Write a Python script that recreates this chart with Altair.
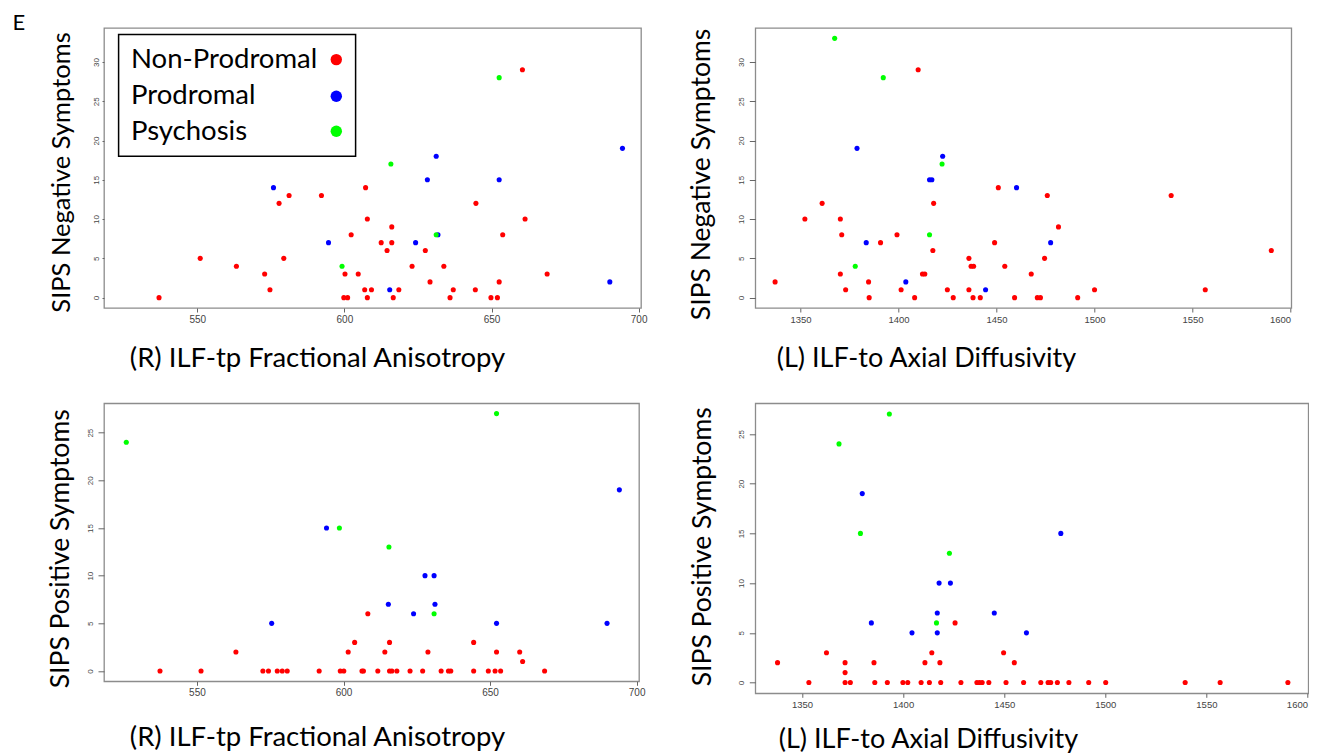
import altair as alt
import pandas as pd

groups = ["Non-Prodromal", "Prodromal", "Psychosis"]
colors = ["#FF0000", "#0000FF", "#00FF00"]

# (R) ILF-tp Fractional Anisotropy vs SIPS Negative Symptoms
fa_neg_np_x = [537, 551, 563.3, 572.9, 574.7, 577.8, 581.2, 579.4, 592.2, 600.2,
               599.8, 601.1, 602.3, 604.7, 607.2, 607.8, 606.9, 609.2, 607.8, 612.5,
               660.5, 644.7, 661.4, 616.1, 653.8, 616.1, 614.5, 627.5, 623.0, 633.8,
               668.9, 629.1, 652.6, 618.5, 637.0, 644.5, 616.6, 635.9, 649.8, 652.0]
fa_neg_np_y = [0, 5, 4, 3, 1, 12, 13, 5, 13, 3,
               0, 0, 8, 3, 14, 10, 1, 1, 0, 7,
               29, 12, 10, 9, 8, 7, 6, 6, 4, 4,
               3, 2, 2, 1, 1, 1, 0, 0, 0, 0]
fa_neg_pr_x = [575.9, 594.6, 694.5, 631.2, 628.2, 652.6, 631.8, 624.2, 690.2, 615.4]
fa_neg_pr_y = [14, 7, 19, 18, 15, 15, 8, 7, 2, 1]
fa_neg_ps_x = [525.5, 599.2, 652.6, 615.8, 631.2]
fa_neg_ps_y = [33, 4, 28, 17, 8]

# (L) ILF-to Axial Diffusivity vs SIPS Negative Symptoms
ad_neg_np_x = [1410.0, 1450.9, 1361.0, 1417.9, 1352.2, 1370.3, 1371.0, 1399.2, 1390.8, 1449.0,
               1417.5, 1435.9, 1437.0, 1438.3, 1454.2, 1370.3, 1412.2, 1413.4, 1337.0, 1384.7,
               1373.0, 1401.3, 1424.9, 1435.9, 1385.0, 1408.2, 1427.9, 1438.0, 1441.7, 1475.9,
               1539.1, 1481.6, 1590.2, 1474.5, 1467.7, 1500.0, 1556.5, 1459.2, 1470.8, 1472.4,
               1491.4]
ad_neg_np_y = [29, 14, 12, 12, 10, 10, 8, 8, 7, 7,
               6, 5, 4, 4, 4, 3, 3, 3, 2, 2,
               1, 1, 1, 1, 0, 0, 0, 0, 0, 13,
               13, 9, 6, 5, 3, 1, 1, 0, 0, 0,
               0]
ad_neg_pr_x = [1378.8, 1422.5, 1415.8, 1417.0, 1383.5, 1403.7, 1444.4, 1460.2, 1477.6]
ad_neg_pr_y = [19, 18, 15, 15, 7, 2, 1, 14, 7]
ad_neg_ps_x = [1367.4, 1392.2, 1422.2, 1415.8, 1377.9]
ad_neg_ps_y = [33, 28, 17, 8, 4]

# (R) ILF-tp Fractional Anisotropy vs SIPS Positive Symptoms
fa_pos_np_x = [537.4, 551.4, 572.5, 574.4, 577.4, 579.1, 580.8, 591.7, 598.9, 600.1,
               606.3, 606.8, 611.7, 615.7, 616.5, 618.2, 622.7, 627.0, 633.3, 635.8,
               636.6, 644.4, 649.4, 651.7, 653.6, 668.6, 563.3, 601.6, 614.1, 628.8,
               652.2, 660.1, 603.8, 615.7, 644.4, 608.3, 661.1]
fa_pos_np_y = [0, 0, 0, 0, 0, 0, 0, 0, 0, 0,
               0, 0, 0, 0, 0, 0, 0, 0, 0, 0,
               0, 0, 0, 0, 0, 0, 2, 2, 2, 2,
               2, 2, 3, 3, 3, 6, 1]
fa_pos_pr_x = [575.5, 594.2, 694.1, 627.8, 630.9, 615.3, 631.2, 623.9, 652.2, 689.9]
fa_pos_pr_y = [5, 15, 19, 10, 10, 7, 7, 6, 5, 5]
fa_pos_ps_x = [525.9, 598.6, 652.2, 615.5, 630.9]
fa_pos_ps_y = [24, 15, 27, 13, 6]

# (L) ILF-to Axial Diffusivity vs SIPS Positive Symptoms
ad_pos_np_x = [1353.4, 1371.3, 1373.9, 1386.0, 1392.2, 1399.9, 1402.3, 1408.9, 1413.0, 1418.6,
               1428.6, 1436.5, 1437.8, 1439.1, 1442.4, 1450.9, 1459.6, 1468.1, 1471.7, 1473.0,
               1476.3, 1482.0, 1491.8, 1500.2, 1539.5, 1556.8, 1590.3, 1371.3, 1337.9, 1371.3,
               1385.6, 1410.8, 1418.2, 1455.0, 1362.1, 1414.2, 1449.7, 1425.7]
ad_pos_np_y = [0, 0, 0, 0, 0, 0, 0, 0, 0, 0,
               0, 0, 0, 0, 0, 0, 0, 0, 0, 0,
               0, 0, 0, 0, 0, 0, 0, 1, 2, 2,
               2, 2, 2, 2, 3, 3, 3, 6]
ad_pos_pr_x = [1379.8, 1384.3, 1404.4, 1416.9, 1416.9, 1417.8, 1423.4, 1445.1, 1478.0, 1461.0]
ad_pos_pr_y = [19, 6, 5, 7, 5, 10, 10, 7, 15, 5]
ad_pos_ps_x = [1368.3, 1378.9, 1393.2, 1416.5, 1422.9]
ad_pos_ps_y = [24, 15, 27, 6, 13]

fa_ticks = [550, 600, 650, 700]
ad_ticks = [1350, 1400, 1450, 1500, 1550, 1600]
neg_ticks = [0, 5, 10, 15, 20, 25, 30]
pos_ticks = [0, 5, 10, 15, 20, 25]

fa_domain = [518.3, 700.8]
ad_domain = [1326.9, 1600.4]
neg_domain = [-1.32, 34.32]
pos_domain = [-1.08, 28.08]

title_fa = "(R) ILF-tp Fractional Anisotropy"
title_ad = "(L) ILF-to Axial Diffusivity"
title_neg = "SIPS Negative Symptoms"
title_pos = "SIPS Positive Symptoms"


def make_df(series):
    rows = []
    for g, (xs, ys) in zip(groups, series):
        for xv, yv in zip(xs, ys):
            rows.append({"x": xv, "y": yv, "group": g})
    return pd.DataFrame(rows)


def points(df, xdom, ydom, xt, yt, xtitle, ytitle, xs):
    return alt.Chart(df).mark_circle(size=26, opacity=1).encode(
        x=alt.X("x:Q",
                scale=alt.Scale(domain=xdom, nice=False, zero=False),
                axis=alt.Axis(values=xt, format="d", title=xtitle,
                              titleX=xs["txx"], titleY=xs["txy"],
                              titleAlign="left", titleBaseline="middle",
                              titleFontSize=xs["xtfs"],
                              labelFontSize=xs["xlfs"], tickSize=4, labelPadding=2)),
        y=alt.Y("y:Q",
                scale=alt.Scale(domain=ydom, nice=False, zero=False),
                axis=alt.Axis(values=yt, format="d", title=ytitle,
                              titleX=xs["tyx"], titleY=xs["tyy"], titleAngle=270,
                              titleAlign="center", titleBaseline="middle",
                              titleFontSize=xs["ytfs"],
                              labelAngle=270, labelFontSize=8,
                              tickSize=xs["yts"], labelPadding=xs["ylp"])),
        color=alt.Color("group:N", scale=alt.Scale(domain=groups, range=colors), legend=None),
    )


one = pd.DataFrame({"k": [0]})

df_tl = make_df([(fa_neg_np_x, fa_neg_np_y), (fa_neg_pr_x, fa_neg_pr_y), (fa_neg_ps_x, fa_neg_ps_y)])
df_tr = make_df([(ad_neg_np_x, ad_neg_np_y), (ad_neg_pr_x, ad_neg_pr_y), (ad_neg_ps_x, ad_neg_ps_y)])
df_bl = make_df([(fa_pos_np_x, fa_pos_np_y), (fa_pos_pr_x, fa_pos_pr_y), (fa_pos_ps_x, fa_pos_ps_y)])
df_br = make_df([(ad_pos_np_x, ad_pos_np_y), (ad_pos_pr_x, ad_pos_pr_y), (ad_pos_ps_x, ad_pos_ps_y)])

pts_tl = points(df_tl, fa_domain, neg_domain, fa_ticks, neg_ticks, title_fa, title_neg,
                dict(txx=25.3, txy=50.3, tyx=-42.7, tyy=144, xtfs=27.5, ytfs=25.5,
                     xlfs=10, yts=2, ylp=2))
pts_tr = points(df_tr, ad_domain, neg_domain, ad_ticks, neg_ticks, title_ad, title_neg,
                dict(txx=21, txy=50.3, tyx=-54, tyy=146, xtfs=27, ytfs=26.5,
                     xlfs=9.5, yts=6, ylp=4))
pts_bl = points(df_bl, fa_domain, pos_domain, fa_ticks, pos_ticks, title_fa, title_pos,
                dict(txx=25.3, txy=56.5, tyx=-44, tyy=145, xtfs=27.5, ytfs=26.5,
                     xlfs=10, yts=6, ylp=4))
pts_br = points(df_br, ad_domain, pos_domain, ad_ticks, pos_ticks, title_ad, title_pos,
                dict(txx=23, txy=46, tyx=-53, tyy=143, xtfs=27, ytfs=26.5,
                     xlfs=9.5, yts=6, ylp=4))

# legend drawn inside the first panel (labels left, dots right)
legend_box = alt.Chart(one).mark_rect(fill="white", stroke="black", strokeWidth=1.5).encode(
    x=alt.value(14.6), x2=alt.value(251.6), y=alt.value(6.6), y2=alt.value(128.3))
legend_text_y = [40, 76, 111.6]
legend_dot_y = [31.6, 68.3, 103.3]
legend_layers = [legend_box]
for g, c, ty, dy in zip(groups, colors, legend_text_y, legend_dot_y):
    legend_layers.append(
        alt.Chart(one).mark_text(text=g, font="Lato", fontSize=27.5, align="left",
                                 baseline="alphabetic", color="black")
        .encode(x=alt.value(27), y=alt.value(ty)))
    legend_layers.append(
        alt.Chart(one).mark_circle(size=130, color=c, opacity=1)
        .encode(x=alt.value(232.3), y=alt.value(dy)))

panel_letter = alt.Chart(one).mark_text(text="E", font="Lato", fontSize=22, align="left",
                                        baseline="alphabetic", color="black").encode(
    x=alt.value(-91.4), y=alt.value(1.6))
anchor = alt.Chart(one).mark_rule(strokeOpacity=0, strokeWidth=0.001).encode(
    x=alt.value(-94.7), x2=alt.value(-94.7), y=alt.value(-18.7), y2=alt.value(-18.7))

tl = alt.layer(pts_tl, *legend_layers, panel_letter, anchor).properties(width=537, height=280)
tr = alt.layer(pts_tr).properties(width=536, height=280)
bl = alt.layer(pts_bl).properties(width=535, height=278)
br = alt.layer(pts_br).properties(width=553, height=290)

chart = alt.concat(tl, tr, bl, br, columns=2, align="none", bounds="flush",
                   spacing={"row": 95.3, "column": 114.3}).properties(
    padding=0
).configure_view(
    stroke="#8c8c8c", strokeWidth=1.3
).configure_axis(
    domain=False, grid=False, tickColor="#666666", tickWidth=1,
    labelColor="#444444", labelFont="Liberation Sans",
    titleFont="Lato", titleFontWeight="normal", titleColor="black"
)

chart.save("out.html", embed_options={"renderer": "svg", "actions": False})
